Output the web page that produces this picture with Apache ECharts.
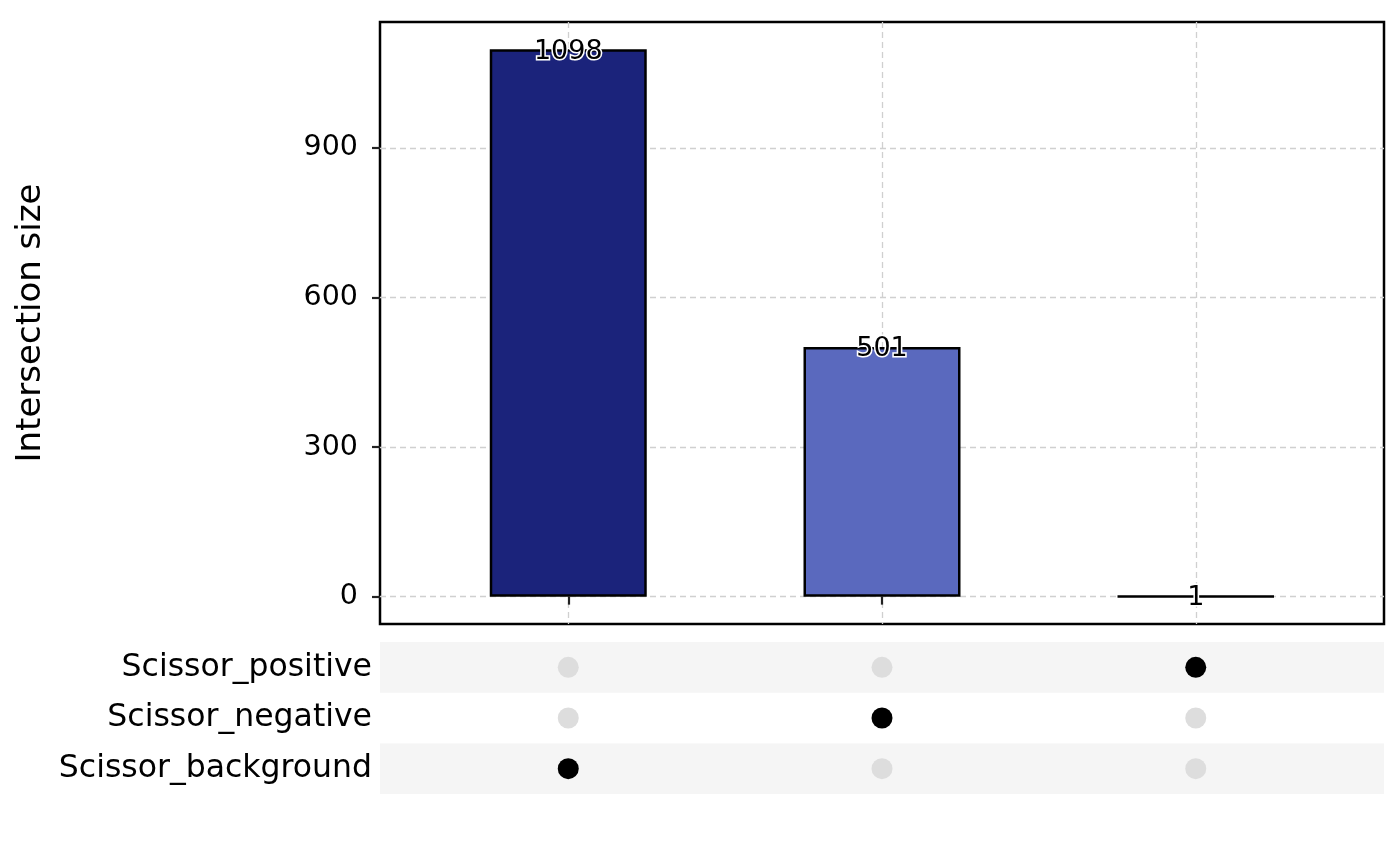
<!DOCTYPE html>
<html>
<head>
<meta charset="utf-8">
<script src="https://cdn.jsdelivr.net/npm/echarts@6/dist/echarts.min.js"></script>
<style>
html, body { margin: 0; padding: 0; background: #fff; }
#main { width: 1400px; height: 866px; }
</style>
</head>
<body>
<div id="main"></div>
<script>
// intersections (left to right) and their sizes
var intersections = [1, 2, 3];
var sizes = [1098, 501, 1];
var barColors = ['#1b237b', '#5a69be', '#8f9ce0'];
var yTicks = [0, 300, 600, 900];

// sets, bottom row first
var setNames = ['Scissor_background', 'Scissor_negative', 'Scissor_positive'];
// membership[set][intersection]
var membership = [
    [1, 0, 0],
    [0, 1, 0],
    [0, 0, 1]
];

var chart = echarts.init(document.getElementById('main'));

var barData = intersections.map(function (x, i) {
    return {value: [x, sizes[i]], itemStyle: {color: barColors[i]}};
});

var dotData = [];
setNames.forEach(function (s, r) {
    intersections.forEach(function (x, c) {
        dotData.push({
            value: [x, s],
            itemStyle: {color: membership[r][c] ? '#000000' : '#dddddd'}
        });
    });
});

var font = 'DejaVu Sans';

var option = {
    animation: false,
    textStyle: {fontFamily: font},
    grid: [
        {left: 380, top: 22, width: 1004, height: 602, show: true,
            borderColor: '#000', borderWidth: 2.5, backgroundColor: '#fff'},
        {left: 380, top: 642, width: 1004, height: 152}
    ],
    xAxis: [
        {
            type: 'value', gridIndex: 0, min: 0.4, max: 3.6,
            axisLine: {show: false},
            axisTick: {show: true, customValues: intersections, length: 8,
                lineStyle: {color: '#222', width: 2.2}},
            axisLabel: {show: false},
            splitLine: {show: true, lineStyle: {color: '#d0d0d0', type: [6, 4], width: 1.3}}
        },
        {
            type: 'value', gridIndex: 1, min: 0.4, max: 3.6,
            axisLine: {show: false}, axisTick: {show: false},
            axisLabel: {show: false}, splitLine: {show: false}
        }
    ],
    yAxis: [
        {
            type: 'value', gridIndex: 0, min: -54.9, max: 1152.9,
            name: 'Intersection size', nameLocation: 'middle', nameGap: 332,
            nameTextStyle: {fontSize: 34, color: '#000', fontFamily: font},
            axisLine: {show: false},
            axisTick: {show: true, customValues: yTicks, length: 8,
                lineStyle: {color: '#222', width: 2.2}},
            axisLabel: {customValues: yTicks, fontSize: 28.5, color: '#000', margin: 22,
                fontFamily: font, padding: [6, 0, 0, 0]},
            splitLine: {show: true, lineStyle: {color: '#d0d0d0', type: [6, 4], width: 1.3}}
        },
        {
            type: 'category', gridIndex: 1, data: setNames,
            axisLine: {show: false}, axisTick: {show: false},
            axisLabel: {fontSize: 31.5, color: '#000', margin: 8, fontFamily: font,
                padding: [4, 0, 0, 0]},
            splitLine: {show: false},
            splitArea: {show: true, areaStyle: {color: ['#f5f5f5', '#ffffff']}}
        }
    ],
    series: [
        {
            type: 'bar', xAxisIndex: 0, yAxisIndex: 0,
            barWidth: 157,
            data: barData,
            itemStyle: {borderColor: '#000', borderWidth: 2.5},
            label: {
                show: true, position: 'top', distance: -16,
                fontSize: 27, color: '#000', fontFamily: font,
                textBorderColor: '#fff', textBorderWidth: 3
            }
        },
        {
            type: 'scatter', xAxisIndex: 1, yAxisIndex: 1,
            symbol: 'circle', symbolSize: 21,
            itemStyle: {opacity: 1},
            data: dotData
        }
    ]
};

chart.setOption(option);
window.addEventListener('resize', function () {
    chart.resize();
});
</script>
</body>
</html>
